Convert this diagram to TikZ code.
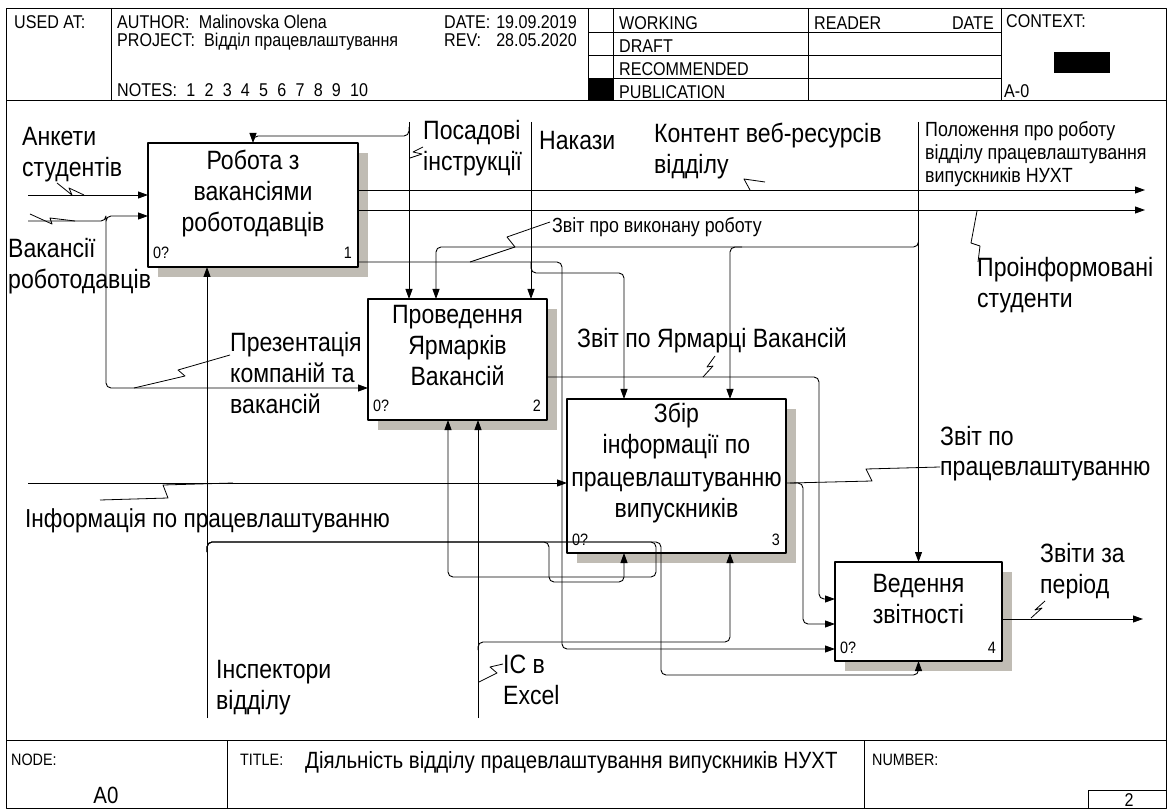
\documentclass[tikz,border=0pt]{standalone}
\usepackage{fontspec}
\setmainfont{Liberation Sans}[FakeStretch=0.87]
\usetikzlibrary{arrows.meta,calc,backgrounds}
\definecolor{shadcol}{RGB}{192,188,180}
\newcommand{\mlc}[1]{\vtop{\halign{\hfil##\hfil\cr#1\crcr}}}
\newcommand{\mll}[1]{\vtop{\halign{##\hfil\cr#1\crcr}}}
\newcommand{\idBig}{\fontsize{26.5}{31}\selectfont}
\newcommand{\idBigS}{\fontsize{26}{31}\selectfont}
\newcommand{\idBigT}{\fontsize{26.5}{32}\selectfont}
\newcommand{\idMid}{\fontsize{20.5}{23}\selectfont}
\newcommand{\idHdr}{\fontsize{18.5}{21}\selectfont}
\newcommand{\idSml}{\fontsize{16.5}{19}\selectfont}
\newcommand{\idTtl}{\fontsize{23.5}{27}\selectfont}
\begin{document}
\begin{tikzpicture}[x=1pt,y=-1pt,line join=round,
  frm/.style={line width=0.9pt},
  boxs/.style={draw,fill=white,line width=1.8pt,inner sep=0pt,outer sep=0pt},
  conn/.style={line width=0.9pt,-{Triangle[length=10pt,width=7pt]}},
  rc/.style={rounded corners=5pt},
  sq/.style={line width=0.8pt},
  txt/.style={inner sep=0pt,anchor=base west},
  lbl/.style={inner sep=0pt,anchor=base west,font=\idBig},
  num/.style={inner sep=0pt,font=\idSml}]
\useasboundingbox (0,0) rectangle (1168,810);
% frame
\draw[frm] (6,8) rectangle (1166.5,808.5);
\draw[frm] (6,100) -- (1166.5,100);
\draw[frm] (6,740) -- (1166.5,740);
\draw[frm] (111,8) -- (111,100);
\draw[frm] (588,8) -- (588,100);
\draw[frm] (613,8) -- (613,100);
\draw[frm] (808,8) -- (808,100);
\draw[frm] (1001,8) -- (1001,100);
\draw[frm] (588,32) -- (1001,32);
\draw[frm] (588,55) -- (1001,55);
\draw[frm] (588,78) -- (1001,78);
\fill (588,78) rectangle (613,100);
\fill (1054,52) rectangle (1110,73);
\draw[frm] (227,740) -- (227,808.5);
\draw[frm] (864,740) -- (864,808.5);
\draw[frm] (1088,808.5) |- (1166.5,790);
% header texts
\node[txt,font=\idHdr] (hUsed) at (14,29) {USED AT:};
\node[txt,font=\idHdr] (hAuth) at (117,29) {AUTHOR:\enspace Malinovska Olena};
\node[txt,font=\idHdr] (hProj) at (117,47) {PROJECT:\enspace Відділ працевлаштування};
\node[txt,font=\idHdr] (hNotes) at (117,97) {NOTES:\enspace 1\enspace 2\enspace 3\enspace 4\enspace 5\enspace 6\enspace 7\enspace 8\enspace 9\enspace 10};
\node[txt,font=\idHdr] (hDate) at (444,29) {DATE:};
\node[txt,font=\idHdr,anchor=base east] (hDateV) at (577,29) {19.09.2019};
\node[txt,font=\idHdr] (hRev) at (444,47) {REV:};
\node[txt,font=\idHdr,anchor=base east] (hRevV) at (577,47) {28.05.2020};
\node[txt,font=\idHdr] (hWork) at (619,30) {WORKING};
\node[txt,font=\idHdr] (hDraft) at (619,53) {DRAFT};
\node[txt,font=\idHdr] (hRec) at (619,76) {RECOMMENDED};
\node[txt,font=\idHdr] (hPub) at (619,98.5) {PUBLICATION};
\node[txt,font=\idHdr] (hRead) at (814,30) {READER};
\node[txt,font=\idHdr,anchor=base east] (hRDate) at (994,30) {DATE};
\node[txt,font=\idHdr] (hCtx) at (1006,28) {CONTEXT:};
\node[txt,font=\idHdr] (hA0) at (1004,98) {A-0};
% footer texts
\node[txt,font=\idSml] (fNode) at (11,765) {NODE:};
\node[txt,font=\idTtl,anchor=base] (fA0) at (106,803) {A0};
\node[txt,font=\idSml] (fTitleL) at (240,765) {TITLE:};
\node[txt,font=\idTtl] (fTitle) at (305,768) {Діяльність відділу працевлаштування випускників НУХТ};
\node[txt,font=\idSml] (fNum) at (872,765) {NUMBER:};
\node[txt,font=\idHdr,anchor=base] (fPage) at (1129,806) {2};
% boxes
\node[boxs,minimum width=210pt,minimum height=124pt] (b1) at (253,205) {};
\node[boxs,minimum width=179pt,minimum height=121pt] (b2) at (457.5,359.5) {};
\node[boxs,minimum width=219pt,minimum height=154pt] (b3) at (676.5,476) {};
\node[boxs,minimum width=167pt,minimum height=99pt] (b4) at (918.5,611.5) {};
\begin{scope}[on background layer]
\foreach \b in {b1,b2,b3,b4}
  \fill[shadcol] ($(\b.north west)+(10,10)$) rectangle ($(\b.south east)+(10,10)$);
\end{scope}
\node[inner sep=0pt,anchor=base,font=\idBig] (t1) at (253,170) {\mlc{Робота з\cr вакансіями\cr роботодавців}};
\node[inner sep=0pt,anchor=base,font=\idBig] (t2) at (457.5,324) {\mlc{Проведення\cr Ярмарків\cr Вакансій}};
\node[inner sep=0pt,anchor=base,font=\idBigT] (t3) at (676.5,422) {\mlc{Збір\cr інформації по\cr працевлаштуванню\cr випускників}};
\node[inner sep=0pt,anchor=base,font=\idBig] (t4) at (918.5,592) {\mlc{Ведення\cr звітності}};
\node[num,anchor=base west] (n1a) at ($(b1.south west)+(5,-8)$) {0?};
\node[num,anchor=base east] (n1b) at ($(b1.south east)+(-6,-8)$) {1};
\node[num,anchor=base west] (n2a) at ($(b2.south west)+(5,-8)$) {0?};
\node[num,anchor=base east] (n2b) at ($(b2.south east)+(-6,-8)$) {2};
\node[num,anchor=base west] (n3a) at ($(b3.south west)+(5,-8)$) {0?};
\node[num,anchor=base east] (n3b) at ($(b3.south east)+(-6,-8)$) {3};
\node[num,anchor=base west] (n4a) at ($(b4.south west)+(5,-8)$) {0?};
\node[num,anchor=base east] (n4b) at ($(b4.south east)+(-6,-8)$) {4};
% free ends
\coordinate (inAnk) at (28,195);
\coordinate (inVak) at (28,221);
\coordinate (inInf) at (28,483);
\coordinate (cPos) at (409,122);
\coordinate (cNak) at (531,122);
\coordinate (cPol) at (918.5,122);
\coordinate (mIns) at (207,718);
\coordinate (mIC) at (478,718);
\coordinate (oKon) at (1145,190);
\coordinate (oPro) at (1145,210);
\coordinate (oZvt) at (1143,619);
% inputs
\draw[conn] (inAnk) -- (inAnk -| b1.west);
\draw[conn,rc] (inVak) -- (106,221) |- (b1.west |- 0,216);
\draw[conn,rc] (106,221) |- (b2.west |- 0,388);
\draw[conn] (inInf) -- (inInf -| b3.west);
% controls
\draw[conn] (cPos) -- (cPos |- b2.north);
\draw[conn] (409,127) [rounded corners=5pt] -- (409,136) -- (b1.north |- 0,136) [sharp corners] -- (b1.north);
\draw[conn] (cNak) -- (cNak |- b2.north);
\draw[conn,rc] (531,262) -- (531,273) -| (624,0 |- b3.north);
\draw[conn] (cPol) -- (b4.north);
\draw[conn,rc] (918.5,236) -- (918.5,247) -- (436,247) -- (436,0 |- b2.north);
\draw[conn,rc] (742,247) -| (730,0 |- b3.north);
% outputs
\draw[conn] (b1.east |- 0,190) -- (oKon);
\draw[conn] (b1.east |- 0,210) -- (oPro);
\draw[conn,rc] (b1.east |- 0,262) -| (562,649) -- (b4.west |- 0,649);
\draw[conn,rc] (b2.east |- 0,377) -| (819,599) -- (b4.west |- 0,599);
\draw[conn,rc] (b3.east |- 0,483) -| (803,624) -- (b4.west |- 0,624);
\draw[conn] (b4.east |- 0,619) -- (oZvt);
% mechanisms
\draw[conn] (mIns) -- (mIns |- b1.south);
\draw[conn,rc] (207,552) -- (207,542) -- (549,542) -- (549,582) -| (624,0 |- b3.south);
\draw[conn,rc] (207,552) -- (207,542) -- (656,542) -- (656,577) -| (448,0 |- b2.south);
\draw[conn,rc] (207,552) -- (207,542) -- (661,542) -- (661,675) -| (b4.south);
\draw[conn] (mIC) -- (mIC |- b2.south);
\draw[conn,rc] (478,650) -- (478,642) -| (730,0 |- b3.south);
% labels
\node[lbl] (lAnk) at (22,146) {\mll{Анкети\cr студентів}};
\node[lbl] (lVak) at (8,258) {\mll{Вакансії\cr роботодавців}};
\node[lbl] (lPos) at (423,140) {\mll{Посадові\cr інструкції}};
\node[lbl] (lNak) at (539,150) {Накази};
\node[lbl] (lKon) at (654,143) {\mll{Контент веб-ресурсів\cr відділу}};
\node[lbl,font=\idMid] (lPol) at (925,137) {\mll{Положення про роботу\cr відділу працевлаштування\cr випускників НУХТ}};
\node[lbl] (lPro) at (977,277) {\mll{Проінформовані\cr студенти}};
\node[lbl,font=\idMid] (lZvr) at (552,233) {Звіт про виконану роботу};
\node[lbl] (lPre) at (230,352) {\mll{Презентація\cr компаній та\cr вакансій}};
\node[lbl] (lYar) at (577,348) {Звіт по Ярмарці Вакансій};
\node[lbl,font=\idBigS] (lInf) at (25,527) {Інформація по працевлаштуванню};
\node[lbl] (lZpr) at (940,445) {\mll{Звіт по\cr працевлаштуванню}};
\node[lbl] (lZza) at (1040,562) {\mll{Звіти за\cr період}};
\node[lbl] (lIns) at (216,678) {\mll{Інспектори\cr відділу}};
\node[lbl] (lIC) at (503,673) {\mll{IC в\cr Excel}};
% squiggles
\draw[sq] (57,183) -- (72,195) -- (69,188) -- (84,195);
\draw[sq] (30,214) -- (52,224) -- (50,218) -- (75,221);
\draw[sq] (423,147) -- (413,152) -- (422,154) -- (410,158);
\draw[sq] (765,182) -- (744,179) -- (750,190);
\draw[sq] (550,222) -- (507,237) -- (515,247) -- (470,262);
\draw[sq] (977,211) -- (971,243) -- (980,246) -- (978,262);
\draw[sq] (134,388) -- (185,376) -- (178,370) -- (230,355);
\draw[sq] (703,377) -- (713,366) -- (707,367) -- (715,356);
\draw[sq] (100,500) -- (168,498) -- (163,485) -- (233,483);
\draw[sq] (790,483) -- (872,481) -- (866,469) -- (940,467);
\draw[sq] (1031,618) -- (1042,608) -- (1035,610) -- (1045,601);
\draw[sq] (479,682) -- (497,673) -- (490,667) -- (503,664);
\end{tikzpicture}
\end{document}
